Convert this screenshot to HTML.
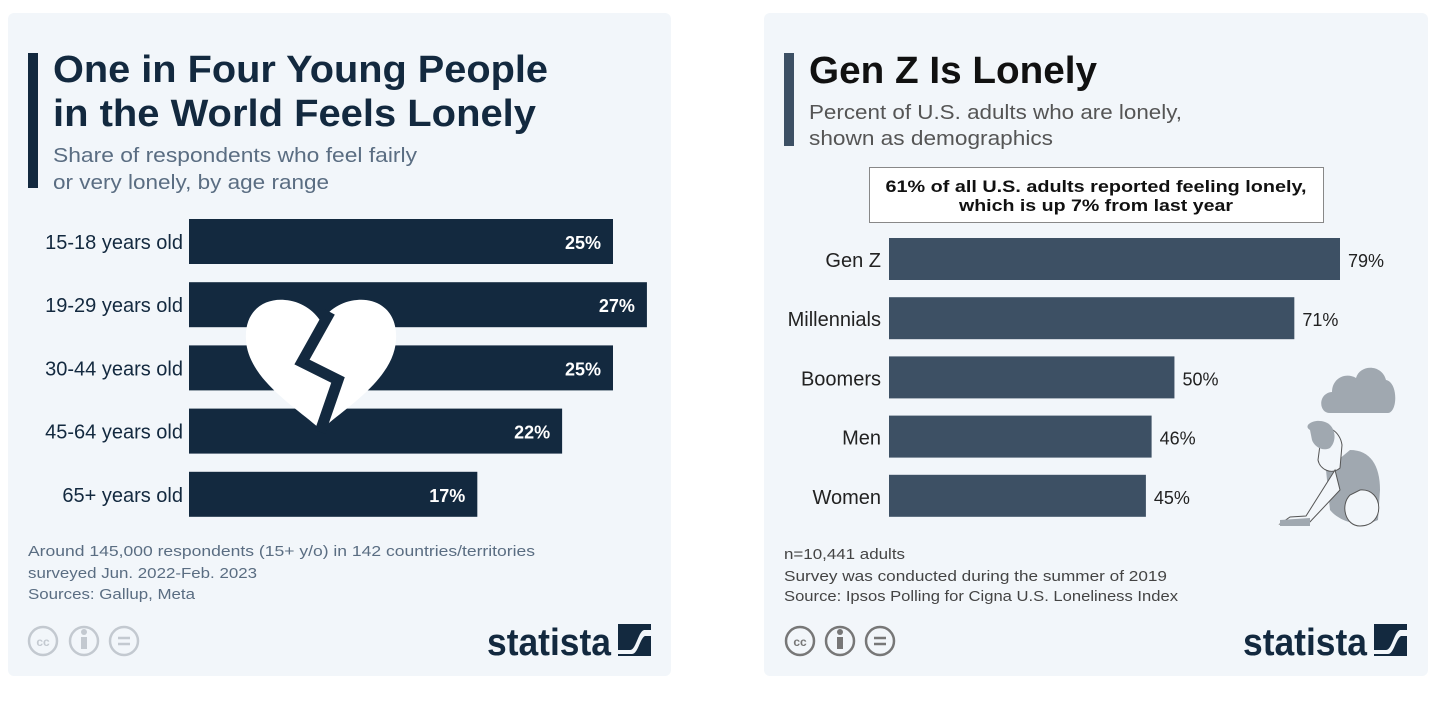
<!DOCTYPE html>
<html><head><meta charset="utf-8"><style>
html,body{margin:0;padding:0;background:#fff;}
svg{display:block;font-family:"Liberation Sans",sans-serif;}
</style></head><body>
<svg width="1438" height="708" viewBox="0 0 1438 708">
<!-- LEFT PANEL -->
<g>
<rect x="8" y="13" width="663" height="663" rx="6" fill="#f2f6fa"/>
<rect x="28" y="53" width="10" height="135" fill="#13293f"/>
<text x="53" y="82" font-size="38" font-weight="bold" fill="#13293f" textLength="495" lengthAdjust="spacingAndGlyphs">One in Four Young People</text>
<text x="53" y="126" font-size="38" font-weight="bold" fill="#13293f" textLength="483" lengthAdjust="spacingAndGlyphs">in the World Feels Lonely</text>
<text x="53" y="162" font-size="20" fill="#5a6d82" textLength="364" lengthAdjust="spacingAndGlyphs">Share of respondents who feel fairly</text>
<text x="53" y="189" font-size="20" fill="#5a6d82" textLength="276" lengthAdjust="spacingAndGlyphs">or very lonely, by age range</text>
<g id="leftBars"></g>
<g>
<path d="M321 430 C300 410 248 380 246 340 C244 310 265 298 285 300 C300 301 314 310 321 322 C328 310 342 301 357 300 C377 298 398 310 396 340 C394 380 342 410 321 430 Z" fill="#fff"/>
<polyline points="330,312 302,362 338,380 320,432" fill="none" stroke="#13293f" stroke-width="11" stroke-linejoin="miter"/>
</g>
<text x="28" y="556" font-size="15" fill="#5a6d82" textLength="507" lengthAdjust="spacingAndGlyphs">Around 145,000 respondents (15+ y/o) in 142 countries/territories</text>
<text x="28" y="578" font-size="15" fill="#5a6d82" textLength="229" lengthAdjust="spacingAndGlyphs">surveyed Jun. 2022-Feb. 2023</text>
<text x="28" y="599" font-size="15" fill="#5a6d82" textLength="167" lengthAdjust="spacingAndGlyphs">Sources: Gallup, Meta</text>
<g fill="none" stroke="#c3c9d0" stroke-width="2.5">
<circle cx="43" cy="641" r="14"/><circle cx="84" cy="641" r="14"/><circle cx="124" cy="641" r="14"/>
<text x="43" y="646" font-size="12" font-weight="bold" fill="#c3c9d0" stroke="none" text-anchor="middle">cc</text>
<rect x="81" y="637" width="6" height="12" fill="#c3c9d0" stroke="none"/><circle cx="84" cy="632" r="3" fill="#c3c9d0" stroke="none"/>
<line x1="118" y1="638" x2="130" y2="638"/><line x1="118" y1="644" x2="130" y2="644"/>
</g>
<g>
<text x="487" y="655" font-size="38" font-weight="bold" fill="#13293f" textLength="124" lengthAdjust="spacingAndGlyphs">statista</text>
<rect x="618" y="624" width="33" height="32" fill="#13293f"/>
<path d="M618 650 L630 650 C636 650 638 632 644 630 L651 630 L651 636 L645 636 C640 638 638 654 632 654 L618 654Z" fill="#f2f6fa"/>
</g>
</g>
<!-- RIGHT PANEL -->
<g>
<rect x="764" y="13" width="664" height="663" rx="6" fill="#f2f6fa"/>
<rect x="784" y="53" width="10" height="93" fill="#3d5064"/>
<text x="809" y="83" font-size="38" font-weight="bold" fill="#111" textLength="288" lengthAdjust="spacingAndGlyphs">Gen Z Is Lonely</text>
<text x="809" y="119" font-size="20" fill="#555" textLength="373" lengthAdjust="spacingAndGlyphs">Percent of U.S. adults who are lonely,</text>
<text x="809" y="145" font-size="20" fill="#555" textLength="244" lengthAdjust="spacingAndGlyphs">shown as demographics</text>
<g>
<rect x="869.5" y="167.5" width="454" height="55" fill="#fff" stroke="#888" stroke-width="1"/>
<text x="1096" y="192" font-size="17" font-weight="bold" fill="#111" text-anchor="middle" textLength="421" lengthAdjust="spacingAndGlyphs">61% of all U.S. adults reported feeling lonely,</text>
<text x="1096" y="211" font-size="17" font-weight="bold" fill="#111" text-anchor="middle" textLength="274" lengthAdjust="spacingAndGlyphs">which is up 7% from last year</text>
</g>
<g id="rightBars"></g>
<g>
<path d="M1330 413 C1318 413 1318 393 1332 392 C1332 378 1346 372 1356 378 C1360 364 1382 364 1386 380 C1398 382 1398 412 1388 413 Z" fill="#a0a8b0"/>
<path d="M1350 450 C1370 450 1380 465 1380 490 L1378 520 C1360 528 1340 522 1330 510 L1326 470 Z" fill="#a0a8b0"/>
<path d="M1322 430 C1325 424 1340 430 1342 445 L1340 468 C1332 475 1320 470 1318 460 Z" fill="#f2f6fa" stroke="#555" stroke-width="1"/>
<path d="M1310 430 C1302 425 1315 418 1325 422 C1335 425 1338 440 1330 448 C1322 452 1314 446 1312 440 Z" fill="#a0a8b0"/>
<path d="M1335 470 L1306 516 L1290 517 L1280 524 L1308 524 L1340 490 Z" fill="#f2f6fa" stroke="#555" stroke-width="1"/>
<path d="M1280 520 L1310 518 L1310 526 L1280 526 Z" fill="#a0a8b0"/>
<path d="M1360 490 C1384 488 1386 526 1360 526 C1345 526 1340 505 1350 495 Z" fill="#f2f6fa" stroke="#555" stroke-width="1"/>
</g>
<text x="784" y="559" font-size="15" fill="#444" textLength="121" lengthAdjust="spacingAndGlyphs">n=10,441 adults</text>
<text x="784" y="581" font-size="15" fill="#444" textLength="383" lengthAdjust="spacingAndGlyphs">Survey was conducted during the summer of 2019</text>
<text x="784" y="601" font-size="15" fill="#444" textLength="394" lengthAdjust="spacingAndGlyphs">Source: Ipsos Polling for Cigna U.S. Loneliness Index</text>
<g fill="none" stroke="#777" stroke-width="2.5">
<circle cx="800" cy="641" r="14"/><circle cx="840" cy="641" r="14"/><circle cx="880" cy="641" r="14"/>
<text x="800" y="646" font-size="12" font-weight="bold" fill="#777" stroke="none" text-anchor="middle">cc</text>
<rect x="837" y="637" width="6" height="12" fill="#777" stroke="none"/><circle cx="840" cy="632" r="3" fill="#777" stroke="none"/>
<line x1="874" y1="638" x2="886" y2="638"/><line x1="874" y1="644" x2="886" y2="644"/>
</g>
<g>
<text x="1243" y="655" font-size="38" font-weight="bold" fill="#13293f" textLength="124" lengthAdjust="spacingAndGlyphs">statista</text>
<rect x="1374" y="624" width="33" height="32" fill="#13293f"/>
<path d="M1374 650 L1386 650 C1392 650 1394 632 1400 630 L1407 630 L1407 636 L1401 636 C1396 638 1394 654 1388 654 L1374 654Z" fill="#f2f6fa"/>
</g>
</g>
</svg>
<script>
const leftCategories = ["15-18 years old","19-29 years old","30-44 years old","45-64 years old","65+ years old"];
const leftValues = [25,27,25,22,17];
const rightCategories = ["Gen Z","Millennials","Boomers","Men","Women"];
const rightValues = [79,71,50,46,45];

const NS = "http://www.w3.org/2000/svg";
function mk(tag, attrs, parent){const e=document.createElementNS(NS,tag);for(const k in attrs)e.setAttribute(k,attrs[k]);parent.appendChild(e);return e;}

// left axis
const lx = v => 189 + v * (424/25);
const ly = i => 219 + i * 63.2;
const lg = document.getElementById('leftBars');
leftCategories.forEach((c,i)=>{
  const y = ly(i);
  const r = mk('rect',{x:189,y:y,width:lx(leftValues[i])-189,height:45,fill:'#13293f'},lg);
  
  
  const t = mk('text',{x:183,y:y+30,'font-size':20,fill:'#13293f','text-anchor':'end'},lg);
  t.textContent=c;
  
  
  const v = mk('text',{x:lx(leftValues[i])-12,y:y+30,'font-size':18,'font-weight':'bold',fill:'#fff','text-anchor':'end'},lg);
  v.textContent=leftValues[i]+'%';
  
  
});

// right axis
const rx = v => 889 + v * (451/79);
const ry = i => 238 + i * 59.2;
const rg = document.getElementById('rightBars');
rightCategories.forEach((c,i)=>{
  const y = ry(i);
  const r = mk('rect',{x:889,y:y,width:rx(rightValues[i])-889,height:42,fill:'#3d5064'},rg);
  
  
  const t = mk('text',{x:881,y:y+29,'font-size':20,fill:'#222','text-anchor':'end'},rg);
  t.textContent=c;
  
  
  const v = mk('text',{x:rx(rightValues[i])+8,y:y+29,'font-size':18,fill:'#222'},rg);
  v.textContent=rightValues[i]+'%';
  
  
});
</script>
</body></html>
